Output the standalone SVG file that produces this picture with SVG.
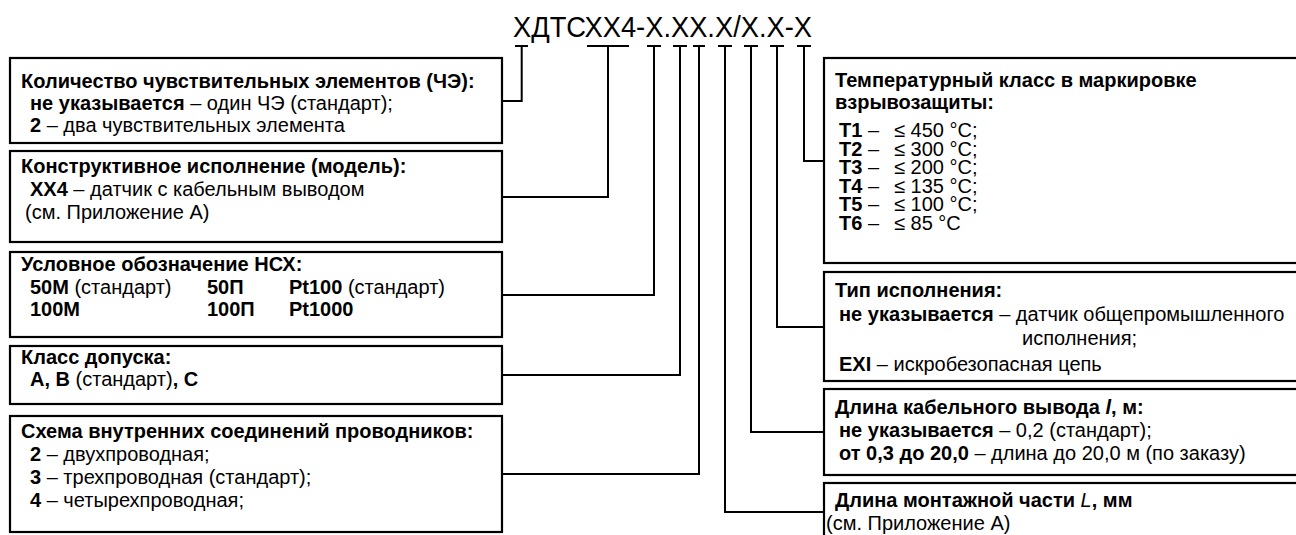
<svg xmlns="http://www.w3.org/2000/svg" width="1296" height="535" viewBox="0 0 1296 535">
<style>
.t{font-family:"Liberation Sans",Arial,sans-serif;font-size:20px;fill:#000}
.b{font-weight:bold}
.i{font-style:italic}
.box{fill:#fff;stroke:#000;stroke-width:2.2}
.c{fill:none;stroke:#000;stroke-width:2}
.title{font-family:"Liberation Sans",Arial,sans-serif;font-size:29px;fill:#000}
</style>
<rect width="1296" height="535" fill="#fff"/>
<text class="title" x="513" y="37" textLength="299" lengthAdjust="spacingAndGlyphs">ХДТСХХ4-Х.ХХ.Х/Х.Х-Х</text>

<g id="connectors">
<path class="c" d="M515 46H528M521.7 46V101H502"/>
<path class="c" d="M587 46H629M608 46V197H502"/>
<path class="c" d="M647 46H661M654 46V295H502"/>
<path class="c" d="M673 46H687M680 46V375H502"/>
<path class="c" d="M693 46H705M699 46V474H502"/>
<path class="c" d="M718 46H732M725 46V512H824"/>
<path class="c" d="M744 46H758M751 46V432H824"/>
<path class="c" d="M770 46H784M777 46V327H824"/>
<path class="c" d="M797 46H811M804 46V161H824"/>
</g>

<g id="box-ce">
<rect class="box" x="10" y="58" width="492" height="85"/>
<text class="t b" x="21" y="88">Количество чувствительных элементов (ЧЭ):</text>
<text class="t" x="30" y="110"><tspan class="b">не указывается</tspan> – один ЧЭ (стандарт);</text>
<text class="t" x="30" y="132"><tspan class="b">2</tspan> – два чувствительных элемента</text>
</g>

<g id="box-model">
<rect class="box" x="10" y="151" width="492" height="91"/>
<text class="t b" x="21" y="173">Конструктивное исполнение (модель):</text>
<text class="t" x="30" y="196"><tspan class="b">ХХ4</tspan> – датчик с кабельным выводом</text>
<text class="t" x="25" y="219">(см. Приложение А)</text>
</g>

<g id="box-nsx">
<rect class="box" x="10" y="252" width="492" height="85"/>
<text class="t b" x="21" y="271">Условное обозначение НСХ:</text>
<text class="t" x="30" y="294"><tspan class="b">50М</tspan> (стандарт)<tspan class="b" x="207">50П</tspan><tspan class="b" x="289">Pt100</tspan> (стандарт)</text>
<text class="t b" x="30" y="316">100М<tspan x="207">100П</tspan><tspan x="289">Pt1000</tspan></text>
</g>

<g id="box-class">
<rect class="box" x="10" y="346" width="492" height="58"/>
<text class="t b" x="21" y="364">Класс допуска:</text>
<text class="t" x="30" y="386"><tspan class="b">А, В</tspan> (стандарт)<tspan class="b">, С</tspan></text>
</g>

<g id="box-scheme">
<rect class="box" x="10" y="416" width="492" height="116"/>
<text class="t b" x="21" y="438">Схема внутренних соединений проводников:</text>
<text class="t" x="30" y="461"><tspan class="b">2</tspan> – двухпроводная;</text>
<text class="t" x="30" y="484"><tspan class="b">3</tspan> – трехпроводная (стандарт);</text>
<text class="t" x="30" y="507"><tspan class="b">4</tspan> – четырехпроводная;</text>
</g>

<g id="box-temp">
<rect class="box" x="824" y="58" width="480" height="205"/>
<text class="t b" x="835" y="87">Температурный класс в маркировке</text>
<text class="t b" x="835" y="109">взрывозащиты:</text>
<text class="t"><tspan class="b" x="839" y="137">Т1</tspan> –<tspan x="894">≤ 450 °С;</tspan><tspan class="b" x="839" y="155.5">Т2</tspan> –<tspan x="894">≤ 300 °С;</tspan><tspan class="b" x="839" y="174">Т3</tspan> –<tspan x="894">≤ 200 °С;</tspan><tspan class="b" x="839" y="192.5">Т4</tspan> –<tspan x="894">≤ 135 °С;</tspan><tspan class="b" x="839" y="211">Т5</tspan> –<tspan x="894">≤ 100 °С;</tspan><tspan class="b" x="839" y="229.5">Т6</tspan> –<tspan x="894">≤ 85 °С</tspan></text>
</g>

<g id="box-type">
<rect class="box" x="824" y="272" width="480" height="109"/>
<text class="t b" x="835" y="297">Тип исполнения:</text>
<text class="t" x="839" y="321"><tspan class="b">не указывается</tspan> – датчик общепромышленного</text>
<text class="t" x="1022" y="345">исполнения;</text>
<text class="t" x="839" y="371"><tspan class="b">EXI</tspan> – искробезопасная цепь</text>
</g>

<g id="box-cable">
<rect class="box" x="824" y="389" width="480" height="86"/>
<text class="t b" x="835" y="414">Длина кабельного вывода <tspan class="i">l</tspan>, м:</text>
<text class="t" x="839" y="437"><tspan class="b">не указывается</tspan> – 0,2 (стандарт);</text>
<text class="t" x="839" y="460"><tspan class="b">от 0,3 до 20,0</tspan> – длина до 20,0 м (по заказу)</text>
</g>

<g id="box-length">
<rect class="box" x="824" y="483" width="480" height="70"/>
<text class="t b" x="835" y="507">Длина монтажной части <tspan class="i" font-weight="normal">L</tspan>, мм</text>
<text class="t" x="826" y="530">(см. Приложение А)</text>
</g>
</svg>
